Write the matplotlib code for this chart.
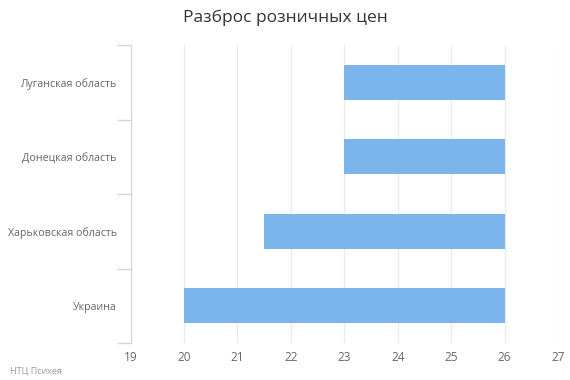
import matplotlib
matplotlib.use('Agg')
import matplotlib.pyplot as plt

plt.rcParams['font.family'] = ['Open Sans', 'DejaVu Sans']

# данные
regions = ['Луганская область', 'Донецкая область', 'Харьковская область', 'Украина']
price_low = [23, 23, 21.5, 20]
price_high = [26, 26, 26, 26]
x_ticks = [19, 20, 21, 22, 23, 24, 25, 26, 27]

fig = plt.figure(figsize=(5.7, 3.8), dpi=100)
ax = fig.add_axes([0.229, 0.097, 0.75, 0.784])

n = len(regions)
ypos = [n - 1 - i for i in range(n)]
widths = [h - l for l, h in zip(price_low, price_high)]
ax.barh(ypos, widths, left=price_low, height=0.47, color='#7cb5ec', zorder=3)

ax.set_xlim(19, 27)
ax.set_ylim(-0.5, n - 0.5)
ax.set_xticks(x_ticks)
ax.set_xticklabels([str(t) for t in x_ticks], color='#666666', fontsize=8.5)
ax.tick_params(axis='x', length=0, pad=6)

# подписи категорий
ax.set_yticks(ypos)
ax.set_yticklabels(regions, color='#666666', fontsize=7.7)
ax.tick_params(axis='y', which='major', length=0, pad=10)
ax.set_yticks([i - 0.5 for i in range(n + 1)], minor=True)
ax.tick_params(axis='y', which='minor', length=10, color='#ccd6eb', width=1)

ax.grid(True, axis='x', color='#ebebeb', linewidth=1, zorder=0)
for s in ['top', 'right', 'bottom']:
    ax.spines[s].set_visible(False)
ax.spines['left'].set_color('#ccd6eb')

fig.text(0.5, 0.952, 'Разброс розничных цен', ha='center', va='center',
         fontsize=12.5, color='#333333')
fig.text(0.018, 0.023, 'НТЦ Психея', ha='left', va='center',
         fontsize=6.5, color='#999999')

fig.savefig('out.png', dpi=100)
